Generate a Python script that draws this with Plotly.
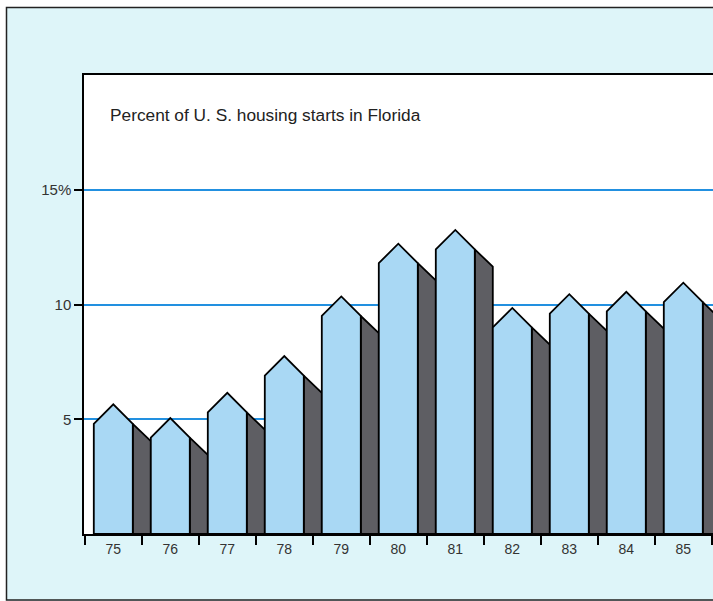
import plotly.graph_objects as go

# ---- data ----
years = ["75", "76", "77", "78", "79", "80", "81", "82", "83", "84", "85"]
share_pct = [4.8, 4.2, 5.3, 6.9, 9.5, 11.8, 12.4, 9.0, 9.6, 9.7, 10.1]
y_tick_vals = [5, 10, 15]
y_tick_text = ["5", "10", "15%"]
title_text = "Percent of U. S. housing starts in Florida"

# ---- style ----
FRONT = "#a9d8f4"
SIDE = "#5e5e63"
BG = "#def5f9"
GRID = "#2290e0"
FONT = "Liberation Sans, Arial, sans-serif"
HALF_W = 0.342   # half width of front face (x units)
SIDE_W = 0.316   # width of side face
ROOF = 0.85      # roof height (y units)
DROP = 0.75      # slope drop of side face

W, H = 713, 601
L, R, T, B = 84, 0, 75, 67
pw, ph = W - L - R, H - T - B


def px(xp):
    return (xp - L) / pw


def py(yp):
    return (H - B - yp) / ph


fig = go.Figure()
xs = list(range(len(years)))
for i, v in zip(xs, share_pct):
    # side face
    fig.add_trace(go.Scatter(
        x=[i + HALF_W, i + HALF_W, i + HALF_W + SIDE_W, i + HALF_W + SIDE_W, i + HALF_W],
        y=[0, v, v - DROP, 0, 0],
        mode="lines", fill="toself", fillcolor=SIDE,
        line=dict(color="black", width=1.8), hoverinfo="skip", showlegend=False))
    # front face with gabled roof
    fig.add_trace(go.Scatter(
        x=[i - HALF_W, i - HALF_W, i, i + HALF_W, i + HALF_W, i - HALF_W],
        y=[0, v, v + ROOF, v, 0, 0],
        mode="lines", fill="toself", fillcolor=FRONT,
        line=dict(color="black", width=1.8), hoverinfo="skip", showlegend=False))

fig.add_annotation(
    x=px(108), y=py(115), xref="paper", yref="paper", text=title_text, showarrow=False,
    font=dict(family=FONT, size=17.3, color="#222"), xanchor="left", yanchor="middle")

# white strips outside the frame and the frame itself
fig.add_shape(type="rect", xref="paper", yref="paper", x0=px(-5), x1=px(720), y0=py(7), y1=py(-5),
              fillcolor="white", line_width=0, layer="below")
fig.add_shape(type="rect", xref="paper", yref="paper", x0=px(-5), x1=px(6), y0=py(-5), y1=py(610),
              fillcolor="white", line_width=0, layer="below")
fig.add_shape(type="rect", xref="paper", yref="paper", x0=px(6.5), x1=px(730), y0=py(7.5), y1=py(600),
              fillcolor="rgba(0,0,0,0)", line=dict(color="#222", width=1.5), layer="below")

fig.update_layout(
    width=W, height=H,
    margin=dict(l=L, r=R, t=T, b=B),
    paper_bgcolor=BG, plot_bgcolor="white",
    font=dict(family=FONT, color="#333"),
    xaxis=dict(
        range=[-0.514, -0.514 + pw / 57.0],
        tickvals=xs, ticktext=years,
        ticks="outside", ticklen=1, tickcolor="rgba(0,0,0,0)",
        tickfont=dict(size=14, color="#333"),
        showgrid=False, zeroline=False,
        showline=True, linecolor="black", linewidth=1.5, mirror=True,
        minor=dict(tickvals=[i + 0.5 for i in range(-1, len(years))], ticks="outside",
                   ticklen=9, tickcolor="black", tickwidth=1.5, showgrid=False),
        fixedrange=True,
    ),
    yaxis=dict(
        range=[0, 20],
        tickvals=y_tick_vals, ticktext=y_tick_text,
        ticks="outside", ticklen=8, tickcolor="black", tickwidth=1.5,
        tickfont=dict(size=15, color="#333"),
        showgrid=True, gridcolor=GRID, gridwidth=1.5,
        zeroline=False, showline=True, linecolor="black", linewidth=1.5,
        fixedrange=True,
    ),
)

fig.write_html("out.html", config={"displayModeBar": False},
               post_script="document.body.style.margin='0';document.body.style.overflow='hidden';")
